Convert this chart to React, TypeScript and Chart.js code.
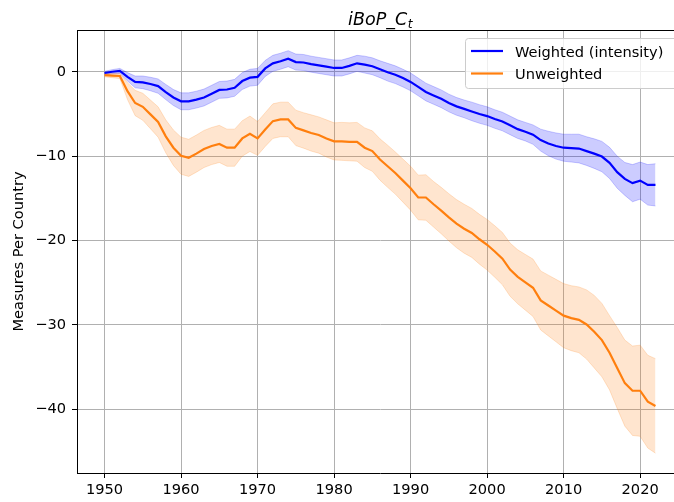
import React, { useEffect, useRef } from "react";
import { Chart, registerables } from "chart.js";

Chart.register(...registerables);

const years = [
  1950, 1951, 1952, 1953, 1954, 1955, 1956, 1957, 1958, 1959,
  1960, 1961, 1962, 1963, 1964, 1965, 1966, 1967, 1968, 1969,
  1970, 1971, 1972, 1973, 1974, 1975, 1976, 1977, 1978, 1979,
  1980, 1981, 1982, 1983, 1984, 1985, 1986, 1987, 1988, 1989,
  1990, 1991, 1992, 1993, 1994, 1995, 1996, 1997, 1998, 1999,
  2000, 2001, 2002, 2003, 2004, 2005, 2006, 2007, 2008, 2009,
  2010, 2011, 2012, 2013, 2014, 2015, 2016, 2017, 2018, 2019,
  2020, 2021, 2022,
];

const weightedMean = [
  -0.15, 0.0, 0.1, -0.6, -1.2, -1.25, -1.45, -1.7, -2.4, -3.05,
  -3.5, -3.5, -3.3, -3.05, -2.6, -2.15, -2.1, -1.9, -1.1, -0.7,
  -0.6, 0.4, 1.0, 1.25, 1.55, 1.15, 1.1, 0.9, 0.75, 0.6,
  0.45, 0.45, 0.7, 1.0, 0.85, 0.65, 0.3, -0.05, -0.35, -0.75,
  -1.2, -1.8, -2.4, -2.8, -3.2, -3.7, -4.1, -4.4, -4.7, -5.0,
  -5.25, -5.6, -5.9, -6.35, -6.8, -7.1, -7.45, -8.1, -8.5, -8.8,
  -9.0, -9.05, -9.1, -9.4, -9.7, -10.05, -10.8, -11.9, -12.7, -13.2,
  -12.9, -13.4, -13.4,
];

const weightedErr = [
  0.2, 0.25, 0.3, 0.5, 0.7, 0.75, 0.8, 0.85, 0.9, 0.95,
  1.0, 1.0, 1.0, 1.0, 1.0, 1.0, 1.0, 1.0, 1.0, 1.0,
  1.0, 0.95, 0.95, 0.95, 0.95, 0.95, 0.95, 0.95, 0.95, 0.95,
  0.95, 0.95, 0.95, 0.95, 1.0, 1.0, 1.0, 1.05, 1.05, 1.05,
  1.05, 1.05, 1.05, 1.05, 1.05, 1.05, 1.05, 1.05, 1.1, 1.1,
  1.1, 1.1, 1.1, 1.1, 1.1, 1.1, 1.15, 1.3, 1.45, 1.55,
  1.6, 1.65, 1.7, 1.7, 1.75, 1.8, 1.85, 1.9, 1.95, 2.2,
  2.2, 2.4, 2.5,
];

const unweightedMean = [
  -0.4, -0.45, -0.5, -2.3, -3.7, -4.15, -5.05, -5.95, -7.65, -9.0,
  -9.95, -10.2, -9.7, -9.15, -8.8, -8.55, -9.0, -9.0, -7.9, -7.35,
  -7.9, -6.85, -5.85, -5.65, -5.65, -6.65, -6.95, -7.25, -7.5, -7.9,
  -8.25, -8.25, -8.3, -8.3, -9.0, -9.4, -10.4, -11.2, -12.0, -12.9,
  -13.8, -14.9, -14.9, -15.7, -16.45, -17.25, -18.0, -18.6, -19.1, -19.85,
  -20.5, -21.3, -22.15, -23.45, -24.3, -24.95, -25.6, -27.1, -27.7, -28.3,
  -28.9, -29.2, -29.4, -29.95, -30.8, -31.8, -33.3, -35.1, -36.9, -37.8,
  -37.8, -39.1, -39.6,
];

const unweightedErr = [
  0.2, 0.25, 0.3, 1.0, 1.5, 1.6, 1.7, 1.8, 1.95, 2.1,
  2.2, 2.2, 2.2, 2.2, 2.2, 2.2, 2.2, 2.2, 2.1, 2.1,
  2.0, 2.0, 2.05, 2.05, 2.05, 2.1, 2.1, 2.15, 2.15, 2.2,
  2.2, 2.25, 2.25, 2.3, 2.35, 2.4, 2.45, 2.5, 2.5, 2.55,
  2.6, 2.65, 2.7, 2.7, 2.75, 2.8, 2.85, 2.9, 2.9, 2.95,
  3.0, 3.05, 3.1, 3.15, 3.2, 3.3, 3.4, 3.5, 3.6, 3.7,
  3.8, 3.85, 3.9, 4.1, 4.3, 4.35, 4.4, 4.8, 5.1, 5.3,
  5.4, 5.5, 5.6,
];

const xTicks = [1950, 1960, 1970, 1980, 1990, 2000, 2010, 2020];
const yTicks = [0, -10, -20, -30, -40];
const seriesLabels = ["Weighted (intensity)", "Unweighted"];
const titleMain = "iBoP_C";
const titleSub = "t";
const yAxisLabel = "Measures Per Country";

const FONT = '"DejaVu Sans", sans-serif';
const FS = 14.6;
const BLUE = "#0000ff";
const ORANGE = "#ff7f0e";
const BLUE_FILL = "rgba(0,0,255,0.2)";
const ORANGE_FILL = "rgba(255,127,14,0.2)";

const W = 690;
const H = 502;

export default function App() {
  const ref = useRef<HTMLCanvasElement | null>(null);

  useEffect(() => {
    const canvas = ref.current;
    if (!canvas) return;

    const pts = (arr: number[]) => years.map((x, i) => ({ x, y: arr[i] }));
    const band = (mean: number[], err: number[], s: number) =>
      years.map((x, i) => ({ x, y: mean[i] + s * err[i] }));

    const overlay = {
      id: "overlay",
      afterDraw(chart: any) {
        const { ctx, chartArea: ca } = chart;
        ctx.save();
        // top & right spines
        ctx.strokeStyle = "#000";
        ctx.lineWidth = 1;
        ctx.beginPath();
        ctx.moveTo(ca.left, Math.round(ca.top) + 0.5);
        ctx.lineTo(ca.right, Math.round(ca.top) + 0.5);
        ctx.moveTo(Math.round(ca.right) - 0.5, ca.top);
        ctx.lineTo(Math.round(ca.right) - 0.5, ca.bottom);
        ctx.stroke();

        // title with subscript
        ctx.fillStyle = "#000";
        ctx.textBaseline = "alphabetic";
        ctx.textAlign = "left";
        ctx.font = `italic 17.5px ${FONT}`;
        const w1 = ctx.measureText(titleMain).width;
        ctx.font = `italic 12.2px ${FONT}`;
        const w2 = ctx.measureText(titleSub).width;
        const cx = (ca.left + ca.right) / 2;
        const x0 = cx - (w1 + w2) / 2;
        ctx.font = `italic 17.5px ${FONT}`;
        ctx.fillText(titleMain, x0, 25);
        ctx.font = `italic 12.2px ${FONT}`;
        ctx.fillText(titleSub, x0 + w1 + 0.5, 27.5);

        // legend
        const lx = 465.5, ly = 38.5, lw = 216, lh = 50;
        ctx.beginPath();
        if ((ctx as any).roundRect) (ctx as any).roundRect(lx, ly, lw, lh, 3);
        else ctx.rect(lx, ly, lw, lh);
        ctx.fillStyle = "rgba(255,255,255,0.8)";
        ctx.fill();
        ctx.strokeStyle = "#cccccc";
        ctx.lineWidth = 1;
        ctx.stroke();
        const items = [
          { label: seriesLabels[0], color: BLUE, y: 51 },
          { label: seriesLabels[1], color: ORANGE, y: 73.5 },
        ];
        ctx.font = `${FS}px ${FONT}`;
        for (const it of items) {
          ctx.strokeStyle = it.color;
          ctx.lineWidth = 2.2;
          ctx.beginPath();
          ctx.moveTo(471, it.y);
          ctx.lineTo(503, it.y);
          ctx.stroke();
          ctx.fillStyle = "#000";
          ctx.fillText(it.label, 515, it.y + 5.6);
        }
        ctx.restore();
      },
    };

    const lineDs = (label: string, data: any, color: string) => ({
      label,
      data,
      borderColor: color,
      borderWidth: 2.2,
      pointRadius: 0,
      fill: false,
      tension: 0,
      order: 0,
    });

    const chart = new Chart(canvas, {
      type: "line",
      data: {
        datasets: [
          lineDs(seriesLabels[0], pts(weightedMean), BLUE),
          {
            label: "_wu",
            data: band(weightedMean, weightedErr, 1),
            borderColor: BLUE_FILL,
            backgroundColor: BLUE_FILL,
            borderWidth: 1,
            pointRadius: 0,
            fill: "+1",
            tension: 0,
            order: 2,
          },
          {
            label: "_wl",
            data: band(weightedMean, weightedErr, -1),
            borderColor: BLUE_FILL,
            borderWidth: 1,
            pointRadius: 0,
            fill: false,
            tension: 0,
            order: 2,
          },
          lineDs(seriesLabels[1], pts(unweightedMean), ORANGE),
          {
            label: "_uu",
            data: band(unweightedMean, unweightedErr, 1),
            borderColor: ORANGE_FILL,
            backgroundColor: ORANGE_FILL,
            borderWidth: 1,
            pointRadius: 0,
            fill: "+1",
            tension: 0,
            order: 1,
          },
          {
            label: "_ul",
            data: band(unweightedMean, unweightedErr, -1),
            borderColor: ORANGE_FILL,
            borderWidth: 1,
            pointRadius: 0,
            fill: false,
            tension: 0,
            order: 1,
          },
        ],
      },
      options: {
        animation: false,
        responsive: false,
        devicePixelRatio: 1,
        layout: { padding: { left: 0, right: W - 683, top: 30, bottom: 0 } },
        plugins: {
          legend: { display: false },
          title: { display: false },
          tooltip: { enabled: false },
        },
        scales: {
          x: {
            type: "linear",
            min: 1946.4,
            max: 2025.6,
            afterBuildTicks: (s: any) => {
              s.ticks = xTicks.map((v) => ({ value: v }));
            },
            afterFit: (s: any) => {
              s.height = 29;
            },
            grid: {
              color: "#b0b0b0",
              lineWidth: 1,
              tickColor: "#000",
              tickLength: 5,
              drawTicks: true,
            },
            border: { color: "#000", width: 1 },
            ticks: {
              color: "#000",
              font: { family: FONT, size: FS },
              padding: 3,
              maxRotation: 0,
              autoSkip: false,
              callback: (v: any) => String(v),
            },
          },
          y: {
            type: "linear",
            min: -47.55,
            max: 4.95,
            afterBuildTicks: (s: any) => {
              s.ticks = yTicks.map((v) => ({ value: v }));
            },
            afterFit: (s: any) => {
              s.width = 77;
            },
            grid: {
              color: "#b0b0b0",
              lineWidth: 1,
              tickColor: "#000",
              tickLength: 5,
              drawTicks: true,
            },
            border: { color: "#000", width: 1 },
            title: {
              display: true,
              text: yAxisLabel,
              color: "#000",
              font: { family: FONT, size: FS },
              padding: { top: 10, bottom: 0 },
            },
            ticks: {
              color: "#000",
              font: { family: FONT, size: FS },
              padding: 6,
              autoSkip: false,
              callback: (v: any) => (v < 0 ? "\u2212" + Math.abs(v) : String(v)),
            },
          },
        },
      },
      plugins: [overlay],
    } as any);

    return () => chart.destroy();
  }, []);

  return (
    <div
      style={{
        position: "absolute",
        left: 0,
        top: 0,
        width: 674,
        height: 502,
        overflow: "hidden",
        background: "#fff",
      }}
    >
      <canvas ref={ref} width={W} height={H} style={{ display: "block", width: W, height: H }} />
    </div>
  );
}
